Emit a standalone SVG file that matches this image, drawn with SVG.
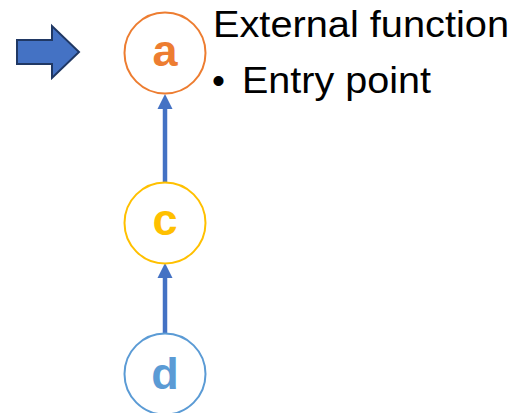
<svg xmlns="http://www.w3.org/2000/svg" width="517" height="413" viewBox="0 0 517 413">
  <defs>
    <style>
      .node circle { fill: #FFFFFF; stroke-width: 2; }
      .node text { font-family: "Liberation Sans", Arial, sans-serif; font-weight: bold; font-size: 45px; text-anchor: middle; }
      .edge line { stroke: #4472C4; stroke-width: 4.5; }
      .edge polygon { fill: #4472C4; }
      .label { font-family: "Liberation Sans", Arial, sans-serif; font-size: 37px; fill: #000000; }
    </style>
  </defs>
  <rect width="517" height="413" fill="#FFFFFF"/>

  <!-- entry pointer block arrow -->
  <g id="entry-arrow">
    <polygon points="17,40 52,40 52,26 79,52 52,78 52,64 17,64" fill="#4472C4" stroke="#203864" stroke-width="2" stroke-linejoin="miter"/>
  </g>

  <!-- connectors -->
  <g id="edges">
    <g class="edge" id="edge-c-a">
      <line x1="165" y1="183" x2="165" y2="107"/>
      <polygon points="165,94 157.5,109 172.5,109"/>
    </g>
    <g class="edge" id="edge-d-c">
      <line x1="165" y1="333" x2="165" y2="276"/>
      <polygon points="165,263 157.5,278 172.5,278"/>
    </g>
  </g>

  <!-- nodes -->
  <g class="node" id="node-a">
    <circle cx="165" cy="53" r="40.5" stroke="#ED7D31"/>
    <text x="165" y="66" fill="#ED7D31">a</text>
  </g>
  <g class="node" id="node-c">
    <circle cx="165" cy="223" r="40.5" stroke="#FFC000"/>
    <text x="165" y="235" fill="#FFC000">c</text>
  </g>
  <g class="node" id="node-d">
    <circle cx="165" cy="374" r="40.5" stroke="#5B9BD5"/>
    <text x="165" y="389" fill="#5B9BD5">d</text>
  </g>

  <!-- description -->
  <g id="description">
    <text class="label" x="213" y="37" textLength="296" lengthAdjust="spacingAndGlyphs">External function</text>
    <text class="label" x="212" y="92.5">•</text>
    <text class="label" x="242" y="92.5" textLength="189" lengthAdjust="spacingAndGlyphs">Entry point</text>
  </g>
</svg>
